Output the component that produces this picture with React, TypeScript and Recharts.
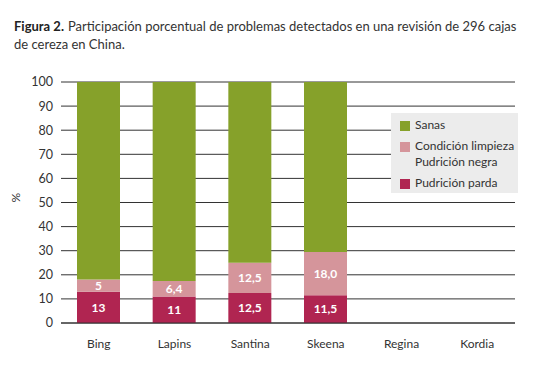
import { BarChart, Bar, XAxis, YAxis, CartesianGrid, LabelList } from "recharts";

const variedades = ["Bing", "Lapins", "Santina", "Skeena", "Regina", "Kordia"];
const pudricionParda = [13, 11, 12.5, 11.5, null, null];
const condicionLimpieza = [5, 6.4, 12.5, 18.0, null, null];
const sanas = [82, 82.6, 75, 70.5, null, null];
const parLabels = ["13", "11", "12,5", "11,5", "", ""];
const limLabels = ["5", "6,4", "12,5", "18,0", "", ""];
const yTicks = [0, 10, 20, 30, 40, 50, 60, 70, 80, 90, 100];

const data = variedades.map((v, i) => ({
  name: v,
  parda: pudricionParda[i],
  limpieza: condicionLimpieza[i],
  sanas: sanas[i],
  parLabel: parLabels[i],
  limLabel: limLabels[i],
}));

const FONT = "Lato, 'Noto Sans', sans-serif";
const GREEN = "#86a12a";
const PINK = "#d5959b";
const CRIMSON = "#b02551";

const legendItems = [
  { color: GREEN, lines: ["Sanas"] },
  { color: PINK, lines: ["Condición limpieza", "Pudrición negra"] },
  { color: CRIMSON, lines: ["Pudrición parda"] },
];

const LegendBox = () => (
  <div
    style={{
      position: "absolute",
      left: 391,
      top: 113,
      width: 127,
      height: 80,
      boxSizing: "border-box",
      background: "#ececec",
      padding: "4px 0 0 9px",
      fontFamily: FONT,
      fontSize: 12,
      color: "#333",
      lineHeight: "16px",
      whiteSpace: "nowrap",
    }}
  >
    {legendItems.map((it, i) => (
      <div key={i} style={{ display: "flex", alignItems: "flex-start", marginBottom: i < 2 ? 5 : 0 }}>
        <div style={{ width: 10, height: 10, background: it.color, marginTop: 4, marginRight: 5, flexShrink: 0 }} />
        <div>
          {it.lines.map((l, j) => (
            <div key={j}>{l}</div>
          ))}
        </div>
      </div>
    ))}
  </div>
);

export default function App() {
  return (
    <div style={{ position: "absolute", left: 0, top: 0, width: 542, height: 382, background: "#fff" }}>
      <div style={{ position: "absolute", left: 14, top: 17, fontFamily: FONT, fontSize: 13, lineHeight: "18px", color: "#333", whiteSpace: "nowrap" }}>
        <div>
          <b style={{ color: "#222", marginRight: 4 }}>Figura 2.</b>
          <span>Participación porcentual de problemas detectados en una revisión de 296 cajas</span>
        </div>
        <div>de cereza en China.</div>
      </div>
      <BarChart
        width={542}
        height={382}
        data={data}
        margin={{ top: 82, right: 27, bottom: 29, left: 0 }}
        barSize={43}
      >
        <CartesianGrid vertical={false} stroke="#333" strokeWidth={1} />
        <XAxis
          dataKey="name"
          axisLine={{ stroke: "#333" }}
          tickLine={false}
          tickMargin={10}
          tick={{ fill: "#333", fontSize: 12, fontFamily: FONT }}
        />
        <YAxis
          width={61}
          domain={[0, 100]}
          ticks={yTicks}
          axisLine={false}
          tickLine={false}
          tick={{ fill: "#333", fontSize: 12.5, fontFamily: FONT }}
          label={{ value: "%", angle: -90, position: "insideLeft", offset: 16, fill: "#333", fontSize: 12, fontFamily: FONT }}
        />
        <Bar dataKey="parda" stackId="a" fill={CRIMSON} isAnimationActive={false}>
          <LabelList dataKey="parLabel" position="center" fill="#fff" fontSize={12} fontWeight={700} fontFamily={FONT} />
        </Bar>
        <Bar dataKey="limpieza" stackId="a" fill={PINK} isAnimationActive={false}>
          <LabelList dataKey="limLabel" position="center" fill="#fff" fontSize={12} fontWeight={700} fontFamily={FONT} />
        </Bar>
        <Bar dataKey="sanas" stackId="a" fill={GREEN} isAnimationActive={false} />
      </BarChart>
      <LegendBox />
    </div>
  );
}
